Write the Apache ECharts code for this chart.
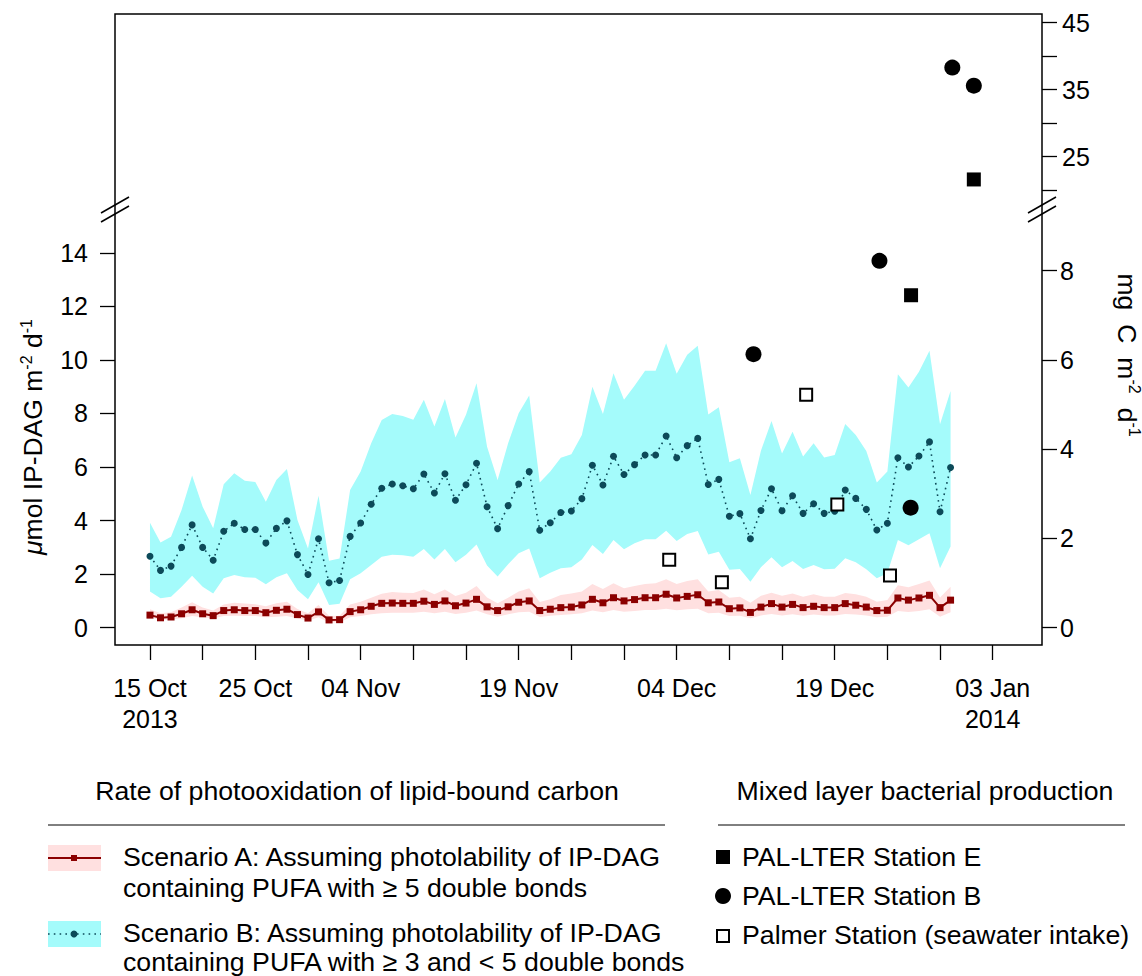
<!DOCTYPE html>
<html>
<head>
<meta charset="utf-8">
<script src="https://cdn.jsdelivr.net/npm/echarts@6/dist/echarts.min.js"></script>
<style>
html,body{margin:0;padding:0;background:#fff;}
#chart{width:1142px;height:976px;}
</style>
</head>
<body>
<div id="chart"></div>
<script>
// ---------------- DATA ----------------
const dailyStart = '2013-10-15';   // first day of the daily series (one value per day)

// Scenario A: PUFA with >= 5 double bonds (umol IP-DAG m-2 d-1)
const scenarioA = [0.47,0.37,0.40,0.52,0.67,0.52,0.45,0.64,0.67,0.64,0.64,0.56,0.65,0.69,0.49,0.36,0.59,0.29,0.30,0.60,
  0.67,0.80,0.91,0.92,0.91,0.91,0.99,0.87,1.00,0.82,0.92,1.06,0.78,0.64,0.78,0.95,1.00,0.64,0.69,0.75,
  0.77,0.85,1.06,0.93,1.12,1.00,1.05,1.12,1.12,1.25,1.11,1.17,1.23,0.93,0.96,0.71,0.74,0.57,0.77,0.90,
  0.77,0.87,0.75,0.80,0.75,0.75,0.90,0.84,0.77,0.64,0.65,1.11,1.03,1.11,1.21,0.75,1.03];
const scenarioALow = [0.39,0.29,0.31,0.35,0.44,0.39,0.34,0.44,0.45,0.44,0.44,0.39,0.41,0.44,0.34,0.26,0.39,0.19,0.19,0.39,
  0.44,0.50,0.54,0.56,0.56,0.56,0.60,0.54,0.60,0.51,0.56,0.64,0.50,0.41,0.50,0.58,0.60,0.40,0.45,0.47,
  0.50,0.54,0.64,0.58,0.66,0.60,0.62,0.66,0.66,0.71,0.65,0.69,0.71,0.54,0.56,0.44,0.45,0.35,0.46,0.51,
  0.46,0.50,0.45,0.49,0.46,0.46,0.51,0.49,0.46,0.39,0.41,0.62,0.59,0.62,0.69,0.41,0.58];
const scenarioAHigh = [0.69,0.54,0.58,0.75,0.95,0.75,0.64,0.87,0.93,0.90,0.88,0.80,0.91,0.97,0.70,0.54,0.85,0.44,0.45,0.87,
  0.97,1.12,1.27,1.33,1.31,1.30,1.43,1.25,1.43,1.18,1.31,1.56,1.13,0.91,1.12,1.35,1.47,0.96,1.06,1.22,
  1.28,1.35,1.63,1.45,1.66,1.47,1.56,1.63,1.66,1.81,1.63,1.74,1.81,1.35,1.41,1.12,1.16,0.93,1.19,1.31,
  1.19,1.28,1.16,1.25,1.16,1.16,1.30,1.25,1.16,0.97,1.03,1.59,1.51,1.63,1.76,1.13,1.53];

// Scenario B: PUFA with >= 3 and < 5 double bonds (umol IP-DAG m-2 d-1)
const scenarioB = [2.67,2.14,2.30,3.00,3.84,3.00,2.52,3.60,3.90,3.67,3.67,3.16,3.71,3.99,2.73,1.99,3.32,1.68,1.76,3.41,
  3.91,4.61,5.21,5.37,5.30,5.19,5.74,5.03,5.75,4.76,5.34,6.14,4.52,3.70,4.56,5.37,5.83,3.64,3.92,4.30,
  4.36,4.82,6.07,5.33,6.40,5.72,6.09,6.45,6.45,7.16,6.35,6.80,7.07,5.35,5.54,4.16,4.26,3.32,4.38,5.19,
  4.37,4.93,4.27,4.63,4.27,4.35,5.14,4.83,4.42,3.65,3.90,6.35,6.00,6.41,6.94,4.33,5.98];
const scenarioBLow = [1.35,1.10,1.16,1.53,1.94,1.53,1.28,1.85,1.97,1.88,1.87,1.62,1.88,2.03,1.41,1.06,1.70,0.85,0.89,1.81,
  2.03,2.34,2.65,2.72,2.71,2.65,2.94,2.55,2.94,2.44,2.72,3.11,2.32,1.91,2.37,2.78,2.96,1.85,2.05,2.22,
  2.26,2.55,3.09,2.75,3.28,2.93,3.15,3.30,3.30,3.62,3.24,3.50,3.61,2.73,2.84,2.16,2.19,1.72,2.26,2.63,
  2.26,2.49,2.19,2.34,2.18,2.20,2.59,2.44,2.18,1.85,2.03,3.28,3.08,3.30,3.53,2.22,3.03];
const scenarioBHigh = [3.92,3.18,3.40,4.40,5.68,4.52,3.71,5.36,5.77,5.49,5.44,4.70,5.52,5.93,4.02,2.96,4.93,2.50,2.58,5.14,
  5.83,6.89,7.76,7.98,7.91,7.77,8.51,7.51,8.54,7.10,7.95,9.13,6.76,5.52,6.89,8.01,8.67,5.42,5.83,6.35,
  6.48,7.20,9.00,7.98,9.50,8.51,9.04,9.60,9.60,10.62,9.48,10.19,10.53,7.96,8.23,6.18,6.33,4.96,6.61,7.72,
  6.51,7.32,6.39,6.89,6.36,6.45,7.61,7.20,6.60,5.42,5.83,9.47,8.97,9.56,10.34,7.60,8.84];

// Mixed layer bacterial production (mg C m-2 d-1)
const stationE = [['2013-12-26 06:00', 7.45], ['2014-01-01 05:00', 21.6]];
const stationB = [['2013-12-11 07:00', 6.13], ['2013-12-23 06:00', 8.22], ['2013-12-26 05:00', 2.69],
                  ['2013-12-30 04:00', 38.3], ['2014-01-01 05:00', 35.6]];
const palmer   = [['2013-12-03 07:00', 1.52], ['2013-12-08 07:00', 1.02], ['2013-12-16 07:00', 5.22],
                  ['2013-12-19 06:00', 2.76], ['2013-12-24 06:00', 1.17]];

// axis ticks / labels
const xTickDates  = ['2013-10-15','2013-10-20','2013-10-25','2013-10-30','2013-11-04','2013-11-09','2013-11-14',
  '2013-11-19','2013-11-24','2013-11-29','2013-12-04','2013-12-09','2013-12-14','2013-12-19','2013-12-24',
  '2013-12-29','2014-01-03'];
const xLabelDates = ['2013-10-15','2013-10-25','2013-11-04','2013-11-19','2013-12-04','2013-12-19','2014-01-03'];
const xYearDates  = ['2013-10-15','2014-01-03'];
const leftTicks   = [0,2,4,6,8,10,12,14];
const rightTicks  = [0,2,4,6,8];
const upperTicks  = [20,25,30,35,40,45];
const upperLabels = [25,35,45];
const breakValue  = 10;   // bacterial values above this are drawn in the upper (broken) panel
const mgCperUmol  = 0.6;  // right-axis scale relative to left axis

// ---------------- HELPERS ----------------
const DAY = 86400000;
function toTime(s){
  const parts = s.split(' ');
  const [Y,M,D] = parts[0].split('-').map(Number);
  const [h,m] = (parts[1] || '00:00').split(':').map(Number);
  return Date.UTC(Y, M-1, D, h, m);
}
const t0 = toTime(dailyStart);
const toDay = s => (toTime(s) - t0) / DAY;          // days since dailyStart (x coordinate)
const pair = arr => arr.map((v, i) => [i, v]);       // daily series: index = day number
const lowerPts = arr => arr.filter(p => p[1] < breakValue).map(p => [toDay(p[0]), p[1]]);
const upperPts = arr => arr.filter(p => p[1] >= breakValue).map(p => [toDay(p[0]), p[1]]);

// band polygon drawn through the axes' own scales
function bandSeries(name, lo, hi, color, z){
  return {
    name, type:'custom', xAxisIndex:1, yAxisIndex:1, z, silent:true,
    data: lo.map((v, i) => [i, v, hi[i]]),
    encode:{x:0, y:[1,2]},
    renderItem: function(params, api){
      if (params.dataIndex !== 0) return null;
      const pts = [];
      for (let i = 0; i < hi.length; i++) pts.push(api.coord([i, hi[i]]));
      for (let i = lo.length - 1; i >= 0; i--) pts.push(api.coord([i, lo[i]]));
      return {type:'polygon', shape:{points:pts}, style:{fill:color, stroke:null}};
    }
  };
}

const MON = ['Jan','Feb','Mar','Apr','May','Jun','Jul','Aug','Sep','Oct','Nov','Dec'];
const yearDays = new Set(xYearDates.map(toDay));
function xFmt(v){
  const d = new Date(t0 + Math.round(v) * DAY);
  const dd = String(d.getUTCDate()).padStart(2,'0');
  let s = dd + ' ' + MON[d.getUTCMonth()];
  if (yearDays.has(Math.round(v))) s += '\n' + d.getUTCFullYear();
  return s;
}

// ---------------- LAYOUT ----------------
const FONT = 'Liberation Sans, Arial, Helvetica, sans-serif';
const PL = 115, PR = 1042, PT = 14, PB = 645, BRK = 210;
const xMin = -3.32, xMax = 84.68;
const lowMin = -0.646, lowMax = 15.6;
const upMin = 17.04, upMax = 46.3;

const RED = '#8b0000', TEAL = '#0c4a59', CYAN = '#a4fbfb', PINK = '#ffe0e0';
const tickStyle = {color:'#000', width:1.3};
const labelStyle = {color:'#000', fontSize:25, fontFamily:FONT};
const LF = '26.7px ' + FONT;
const noLine = {show:false, onZero:false};
const solidBlack = {color:'#000', opacity:1};

const chart = echarts.init(document.getElementById('chart'), null, {renderer:'svg'});

const option = {
  animation: false,
  backgroundColor: '#fff',
  grid: [
    {left: PL, right: 1142 - PR, top: PT, height: BRK - PT},
    {left: PL, right: 1142 - PR, top: BRK, height: PB - BRK}
  ],
  xAxis: [
    {type:'value', gridIndex:0, min:xMin, max:xMax, show:false, axisLine:noLine},
    {type:'value', gridIndex:1, min:xMin, max:xMax,
     axisLine:noLine, splitLine:{show:false},
     axisTick:{show:true, length:15, lineStyle:tickStyle, customValues: xTickDates.map(toDay)},
     axisLabel:Object.assign({customValues: xLabelDates.map(toDay), formatter:xFmt, margin:27, lineHeight:31,
       hideOverlap:false, align:'center'}, labelStyle)}
  ],
  yAxis: [
    {type:'value', gridIndex:0, position:'right', min:upMin, max:upMax,
     axisLine:noLine, splitLine:{show:false},
     axisTick:{show:true, length:15, lineStyle:tickStyle, customValues: upperTicks},
     axisLabel:Object.assign({customValues: upperLabels, margin:20}, labelStyle)},
    {type:'value', gridIndex:1, position:'left', min:lowMin, max:lowMax,
     axisLine:noLine, splitLine:{show:false},
     axisTick:{show:true, length:15, lineStyle:tickStyle, customValues: leftTicks},
     axisLabel:Object.assign({customValues: leftTicks, margin:27}, labelStyle)},
    {type:'value', gridIndex:1, position:'right', min:lowMin * mgCperUmol, max:lowMax * mgCperUmol,
     axisLine:noLine, splitLine:{show:false},
     axisTick:{show:true, length:15, lineStyle:tickStyle, customValues: rightTicks},
     axisLabel:Object.assign({customValues: rightTicks, margin:18}, labelStyle)}
  ],
  series: [
    bandSeries('Scenario B range', scenarioBLow, scenarioBHigh, CYAN, 1),
    bandSeries('Scenario A range', scenarioALow, scenarioAHigh, PINK, 2),
    {name:'Scenario A', type:'line', xAxisIndex:1, yAxisIndex:1, data: pair(scenarioA),
     symbol:'rect', symbolSize:7, showAllSymbol:true, itemStyle:{color:RED, opacity:1}, lineStyle:{color:RED, width:2}, z:3},
    {name:'Scenario B', type:'line', xAxisIndex:1, yAxisIndex:1, data: pair(scenarioB),
     symbol:'circle', symbolSize:7, showAllSymbol:true, itemStyle:{color:TEAL, opacity:1},
     lineStyle:{color:TEAL, width:1.6, type:[1.6,4.2]}, z:3},
    {name:'PAL-LTER Station E', type:'scatter', xAxisIndex:1, yAxisIndex:2, data: lowerPts(stationE),
     symbol:'rect', symbolSize:14, itemStyle:solidBlack, z:5},
    {name:'PAL-LTER Station E ', type:'scatter', xAxisIndex:0, yAxisIndex:0, data: upperPts(stationE),
     symbol:'rect', symbolSize:14, itemStyle:solidBlack, z:5},
    {name:'PAL-LTER Station B', type:'scatter', xAxisIndex:1, yAxisIndex:2, data: lowerPts(stationB),
     symbol:'circle', symbolSize:16, itemStyle:solidBlack, z:5},
    {name:'PAL-LTER Station B ', type:'scatter', xAxisIndex:0, yAxisIndex:0, data: upperPts(stationB),
     symbol:'circle', symbolSize:16, itemStyle:solidBlack, z:5},
    {name:'Palmer Station (seawater intake)', type:'scatter', xAxisIndex:1, yAxisIndex:2, data: lowerPts(palmer),
     symbol:'rect', symbolSize:12, itemStyle:{color:'#fff', borderColor:'#000', borderWidth:2, opacity:1}, z:6}
  ],
  graphic: [
    // plot frame
    {type:'rect', shape:{x:PL, y:PT, width:PR-PL, height:PB-PT}, style:{fill:'none', stroke:'#000', lineWidth:1.5}, z:20, silent:true},
    // axis breaks
    {type:'line', shape:{x1:PL-14, y1:BRK+3, x2:PL+14, y2:BRK-13}, style:{stroke:'#000', lineWidth:1.6}, z:21},
    {type:'line', shape:{x1:PL-14, y1:BRK+12, x2:PL+14, y2:BRK-4}, style:{stroke:'#000', lineWidth:1.6}, z:21},
    {type:'line', shape:{x1:PR-14, y1:BRK+3, x2:PR+14, y2:BRK-13}, style:{stroke:'#000', lineWidth:1.6}, z:21},
    {type:'line', shape:{x1:PR-14, y1:BRK+12, x2:PR+14, y2:BRK-4}, style:{stroke:'#000', lineWidth:1.6}, z:21},
    // axis titles
    {type:'text', x:33, y:437, rotation:Math.PI/2, z:21, style:{
      text:'{it|\u03bc}{n|mol IP-DAG m}{sup|-2}{n| d}{sup|-1}', align:'center', verticalAlign:'middle', fill:'#000',
      rich:{ it:{fontStyle:'italic', fontSize:26.5, fontFamily:FONT, lineHeight:30, fill:'#000'},
             n:{fontSize:26.5, fontFamily:FONT, lineHeight:30, fill:'#000'},
             sup:{fontSize:16, fontFamily:FONT, lineHeight:15, verticalAlign:'top', fill:'#000'} }}},
    {type:'text', x:1127, y:355, rotation:-Math.PI/2, z:21, style:{
      text:'{n|mg}{sp| }{n|C}{sp| }{n|m}{sup|-2}{sp| }{n|d}{sup|-1}', align:'center', verticalAlign:'middle', fill:'#000',
      rich:{ n:{fontSize:26.5, fontFamily:FONT, lineHeight:30, fill:'#000'},
             sp:{fontSize:26.5, fontFamily:FONT, lineHeight:30, width:14},
             sup:{fontSize:16, fontFamily:FONT, lineHeight:15, verticalAlign:'top', fill:'#000'} }}},
    // legend headers
    {type:'text', x:357, y:791, style:{text:'Rate of photooxidation of lipid-bound carbon', font:LF, fill:'#000', align:'center', verticalAlign:'middle'}},
    {type:'line', shape:{x1:48, y1:825, x2:665, y2:825}, style:{stroke:'#000', lineWidth:1}},
    {type:'text', x:925, y:791, style:{text:'Mixed layer bacterial production', font:LF, fill:'#000', align:'center', verticalAlign:'middle'}},
    {type:'line', shape:{x1:718, y1:825, x2:1125, y2:825}, style:{stroke:'#000', lineWidth:1}},
    // Scenario A key
    {type:'rect', shape:{x:48, y:845, width:53, height:26}, style:{fill:PINK}},
    {type:'line', shape:{x1:48, y1:858, x2:101, y2:858}, style:{stroke:RED, lineWidth:2}},
    {type:'rect', shape:{x:71, y:855, width:6, height:6}, style:{fill:RED}},
    {type:'text', x:123, y:857, style:{text:'Scenario A: Assuming photolability of IP-DAG', font:LF, fill:'#000', verticalAlign:'middle'}},
    {type:'text', x:123, y:888, style:{text:'containing PUFA with \u2265 5 double bonds', font:LF, fill:'#000', verticalAlign:'middle'}},
    // Scenario B key
    {type:'rect', shape:{x:48, y:921, width:53, height:26}, style:{fill:CYAN}},
    {type:'line', shape:{x1:48, y1:934, x2:101, y2:934}, style:{stroke:TEAL, lineWidth:1.6, lineDash:[1.6,4.2]}},
    {type:'circle', shape:{cx:74, cy:934, r:3.5}, style:{fill:TEAL}},
    {type:'text', x:123, y:933, style:{text:'Scenario B: Assuming photolability of IP-DAG', font:LF, fill:'#000', verticalAlign:'middle'}},
    {type:'text', x:123, y:962, style:{text:'containing PUFA with \u2265 3 and < 5 double bonds', font:LF, fill:'#000', verticalAlign:'middle'}},
    // bacterial production key
    {type:'rect', shape:{x:716, y:850, width:14, height:14}, style:{fill:'#000'}},
    {type:'text', x:742, y:857, style:{text:'PAL-LTER Station E', font:LF, fill:'#000', verticalAlign:'middle'}},
    {type:'circle', shape:{cx:723, cy:896, r:8}, style:{fill:'#000'}},
    {type:'text', x:742, y:896, style:{text:'PAL-LTER Station B', font:LF, fill:'#000', verticalAlign:'middle'}},
    {type:'rect', shape:{x:717, y:930, width:12, height:12}, style:{fill:'#fff', stroke:'#000', lineWidth:2}},
    {type:'text', x:742, y:935, style:{text:'Palmer Station (seawater intake)', font:LF, fill:'#000', verticalAlign:'middle'}}
  ]
};
chart.setOption(option);
</script>
</body>
</html>
